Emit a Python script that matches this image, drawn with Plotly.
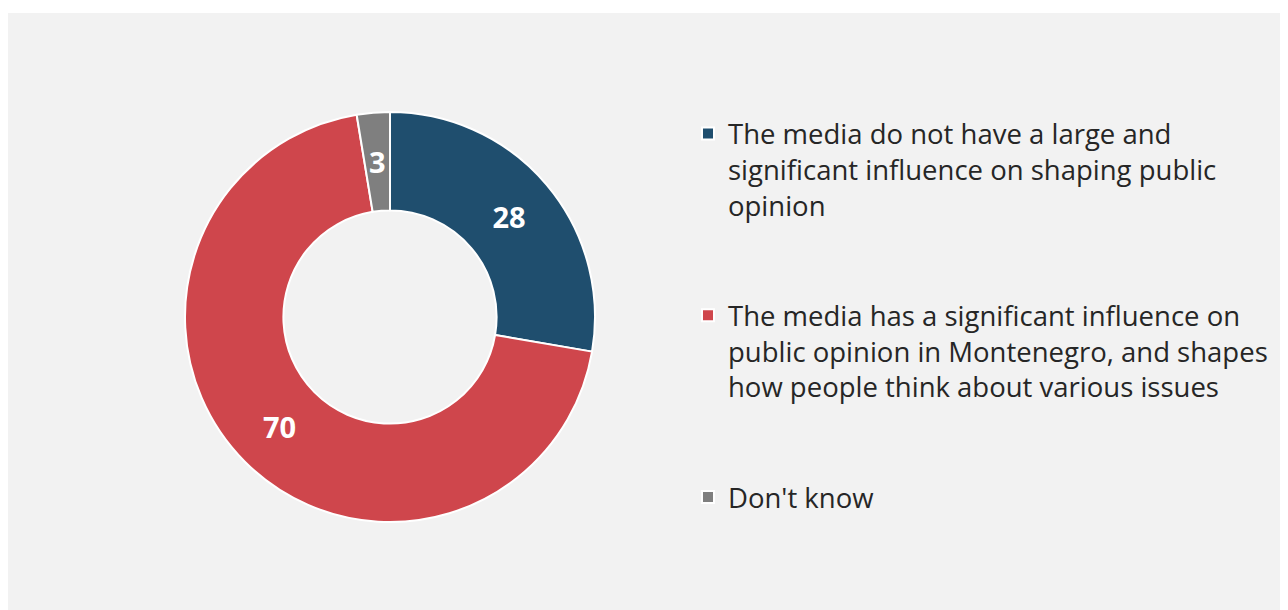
import math
import plotly.graph_objects as go

labels = [
    "The media do not have a large and<br>significant influence on shaping public<br>opinion",
    "The media has a significant influence on<br>public opinion in Montenegro, and shapes<br>how people think about various issues",
    "Don't know",
]
values = [27.7, 69.7, 2.6]          # shares (%)
value_labels = ["28", "70", "3"]    # labels printed on the chart
colors = ["#1F4E6E", "#CF464C", "#7F7F7F"]

W, H = 1288, 610
cx, cy, R = 382, 309, 205
HOLE = 0.52

# spacing lines appended so that legend entries are spread as in the reference
legend_labels = [labels[0] + "<br> <br> ", labels[1] + "<br> <br> ", labels[2]]

# the thin last slice gets its value label placed at mid-ring (as in reference)
small = [v < 5 for v in values]
texts = ["" if s else t for t, s in zip(value_labels, small)]

fig = go.Figure(
    go.Pie(
        labels=legend_labels,
        values=values,
        text=texts,
        hole=HOLE,
        sort=False,
        direction="clockwise",
        rotation=0,
        marker=dict(colors=colors, line=dict(color="white", width=2)),
        textinfo="text",
        textposition="inside",
        insidetextorientation="horizontal",
        textfont=dict(family="Open Sans", size=29, color="white", weight="bold"),
        domain=dict(x=[(cx - R) / W, (cx + R) / W], y=[(H - cy - R) / H, (H - cy + R) / H]),
        hoverinfo="label+value",
    )
)

annotations = []
total = sum(values)
cum = 0
r_mid = R * (1 + HOLE) / 2
for v, t, s in zip(values, value_labels, small):
    mid = 2 * math.pi * (cum + v / 2) / total
    cum += v
    if s:
        px = cx + r_mid * math.sin(mid)
        py = cy - r_mid * math.cos(mid)
        annotations.append(dict(
            x=px / W, y=(H - py) / H, xref="paper", yref="paper",
            text=t, showarrow=False, xanchor="center", yanchor="middle",
            font=dict(family="Open Sans", size=29, color="white", weight="bold"),
        ))

fig.update_layout(
    width=W,
    height=H,
    margin=dict(l=0, r=0, t=0, b=0),
    paper_bgcolor="white",
    font=dict(family="Open Sans", color="#262626"),
    uniformtext=dict(minsize=29, mode="show"),
    showlegend=True,
    legend=dict(
        x=680 / W,
        xanchor="left",
        y=(H - 101) / H,
        yanchor="top",
        valign="top",
        font=dict(family="Open Sans", size=27.5, color="#262626"),
        bgcolor="rgba(0,0,0,0)",
        itemwidth=30,
        traceorder="normal",
    ),
    annotations=annotations,
    shapes=[
        dict(
            type="rect",
            xref="paper",
            yref="paper",
            x0=0,
            x1=1,
            y0=0,
            y1=(H - 5) / H,
            fillcolor="#F2F2F2",
            line=dict(width=0),
            layer="below",
        )
    ],
)

fig.write_html("out.html")
